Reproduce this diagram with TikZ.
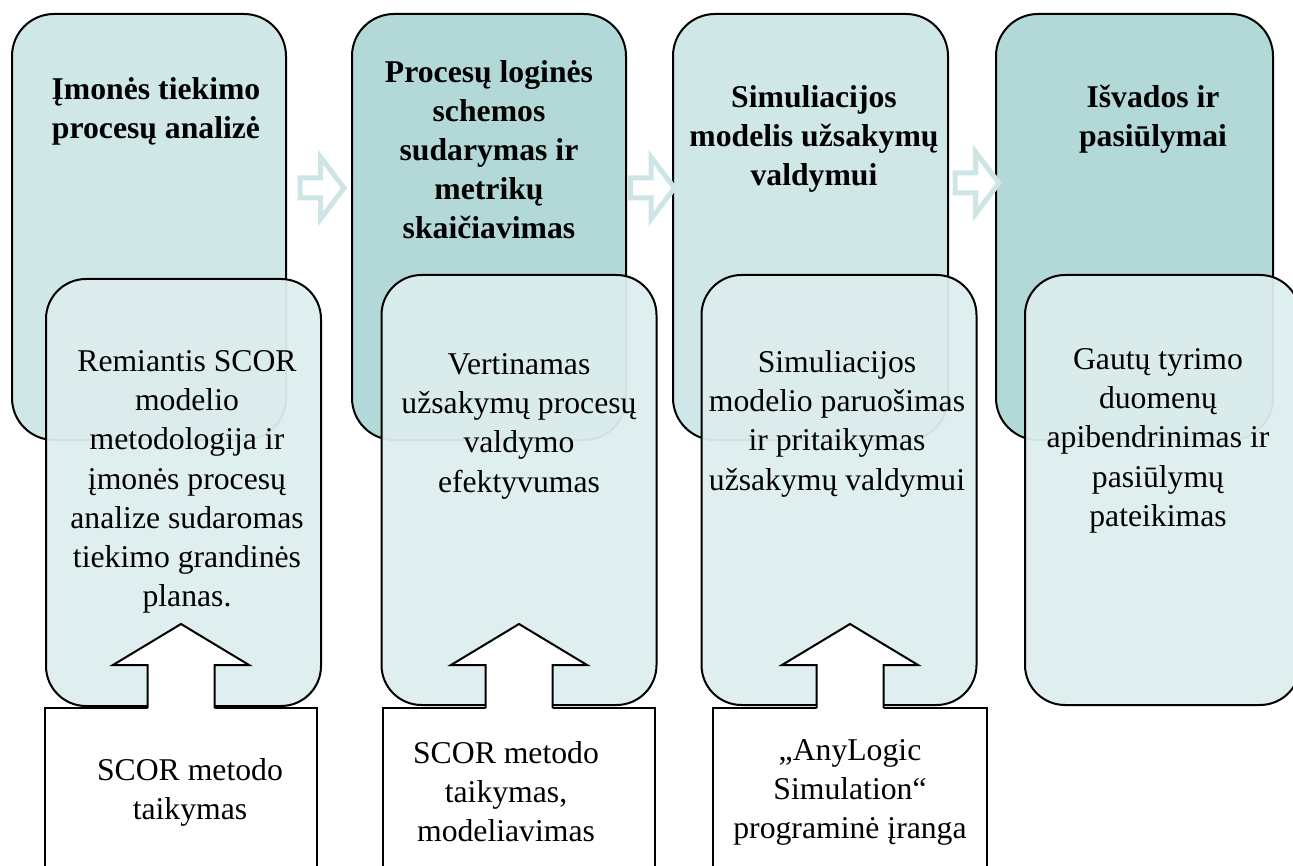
\documentclass[tikz,border=0pt]{standalone}
\usepackage{fontspec}
\setmainfont{Liberation Serif}
\usetikzlibrary{calc}

\definecolor{stageLight}{HTML}{CFE7E7}
\definecolor{stageDark}{HTML}{B2D8D8}
\definecolor{detailFill}{HTML}{DDEDED}
\definecolor{flowTeal}{HTML}{CDE5E5}

\tikzset{
  stagebox/.style={draw=black, line width=2pt, rounded corners=42pt,
    minimum width=275pt, minimum height=426pt, inner sep=0pt},
  detailbox/.style={draw=black, line width=2pt, rounded corners=40pt,
    fill=detailFill, fill opacity=0.95, draw opacity=1, text opacity=1,
    minimum width=275pt, minimum height=430pt, inner sep=0pt},
  toolbox/.style={draw=black, line width=2pt, fill=white,
    minimum height=200pt, inner sep=0pt, anchor=north},
  headtext/.style={font=\fontsize{31.7}{39}\selectfont\bfseries,
    align=center, anchor=north, inner sep=0pt},
  bodytext/.style={font=\fontsize{31.7}{39.3}\selectfont,
    align=center, anchor=north, inner sep=0pt},
  pics/flowarrow/.style={code={
    \path[draw=flowTeal, line width=5pt, fill=white, line join=miter]
      (-22,-10) -- (-1.5,-10) -- (-1.5,-31) -- (22,0) -- (-1.5,31)
      -- (-1.5,10) -- (-22,10) -- cycle;
  }},
  pics/uparrow/.style={code={
    \fill[white] (-33.5,2) -- (-33.5,-42) -- (-68,-42) -- (0,-83)
      -- (68,-42) -- (33.5,-42) -- (33.5,2) -- cycle;
    \draw[line width=2pt, line join=miter] (-33.5,1) -- (-33.5,-42)
      -- (-68,-42) -- (0,-83) -- (68,-42) -- (33.5,-42) -- (33.5,1);
  }}
}

\begin{document}
\begin{tikzpicture}[x=1pt, y=-1pt]
  \useasboundingbox (0,0) rectangle (1293,866);
  \clip (0,0) rectangle (1293,866);

  % stage boxes
  \node[stagebox, fill=stageLight, minimum width=274pt] (t1) at (149,227) {};
  \node[stagebox, fill=stageDark,  minimum width=274pt] (t2) at (489,227) {};
  \node[stagebox, fill=stageLight] (t3) at (810.5,227) {};
  \node[stagebox, fill=stageDark, minimum width=277pt] (t4) at (1134.5,227) {};

  % flow arrows between stages
  \pic at ($(t1.east)!0.5!(t2.west)+(3,-39)$) {flowarrow};
  \pic at ($(t2.east)!0.5!(t3.west)+(3,-39)$) {flowarrow};
  \pic at ($(t3.east)!0.5!(t4.west)+(5,-44)$) {flowarrow};

  % detail boxes
  \node[detailbox, minimum height=427pt] (d1) at (183.5,492.5) {};
  \node[detailbox] (d2) at (519,490) {};
  \node[detailbox] (d3) at (839,490) {};
  \node[detailbox] (d4) at (1162.5,490) {};

  % tool boxes
  \node[toolbox, minimum width=272pt] (b1) at (181,707) {};
  \node[toolbox, minimum width=272pt] (b2) at (519,707) {};
  \node[toolbox, minimum width=274pt] (b3) at (850,707) {};

  % inputs feeding the detail boxes
  \pic at (b1.north) {uparrow};
  \pic at (b2.north) {uparrow};
  \pic at (b3.north) {uparrow};

  % stage titles
  \node[headtext] (h1) at (156,77) {Įmonės tiekimo\\procesų analizė};
  \node[headtext] (h2) at (489,60) {Procesų loginės\\schemos\\sudarymas ir\\metrikų\\skaičiavimas};
  \node[headtext] (h3) at (814,85) {Simuliacijos\\modelis užsakymų\\valdymui};
  \node[headtext] (h4) at (1153,85) {Išvados ir\\pasiūlymai};

  % stage details
  \node[bodytext] (x1) at (187,350) {Remiantis SCOR\\modelio\\metodologija ir\\įmonės procesų\\analize sudaromas\\tiekimo grandinės\\planas.};
  \node[bodytext] (x2) at (519,353) {Vertinamas\\užsakymų procesų\\valdymo\\efektyvumas};
  \node[bodytext] (x3) at (837,350) {Simuliacijos\\modelio paruošimas\\ir pritaikymas\\užsakymų valdymui};
  \node[bodytext] (x4) at (1158,348) {Gautų tyrimo\\duomenų\\apibendrinimas ir\\pasiūlymų\\pateikimas};

  % tools and methods
  \node[bodytext] (y1) at (190,758) {SCOR metodo\\taikymas};
  \node[bodytext] (y2) at (506,741) {SCOR metodo\\taikymas,\\modeliavimas};
  \node[bodytext] (y3) at (850,739) {„AnyLogic\\Simulation“\\programinė įranga};
\end{tikzpicture}
\end{document}
